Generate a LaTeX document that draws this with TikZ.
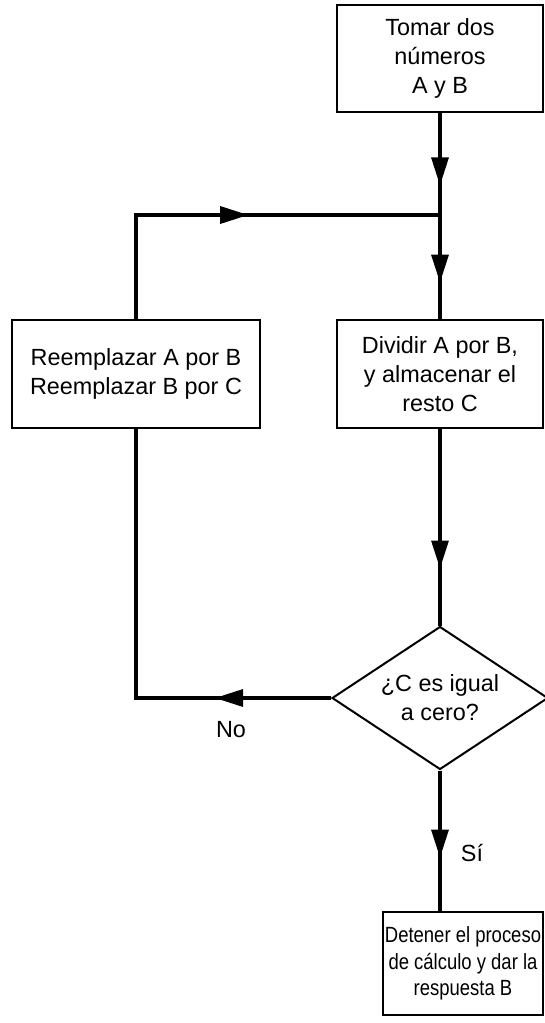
\documentclass[tikz,border=0pt]{standalone}
\usepackage{fontspec}
\setmainfont{Liberation Sans}
\newfontfamily\narrowfont[FakeStretch=0.84]{Liberation Sans}
\usetikzlibrary{shapes.geometric,arrows.meta,decorations.markings}

\begin{document}
\begin{tikzpicture}[x=0.5pt, y=-0.5pt,
		box/.style={draw, line width=1pt, rectangle, inner sep=0pt, align=center,
			font=\fontsize{11.7}{14.5}\selectfont},
		rombo/.style={draw, line width=1pt, diamond, aspect=1.5, inner sep=0pt,
			align=center, font=\fontsize{11.7}{14.5}\selectfont},
		con/.style={line width=1.6pt},
		fl/.style={postaction={decorate}, decoration={markings,
				mark=at position #1 with {\arrow{Triangle[length=14pt,width=8.5pt]}}}},
		lbl/.style={font=\fontsize{11.7}{14}\selectfont}]
	\useasboundingbox (0,0) rectangle (545,1023);

	\node[box, minimum width=103pt, minimum height=53.5pt] (tomar) at (440,58.5)
	{Tomar dos\\números\\A y B};
	\coordinate (junta) at (440,215);
	\node[box, minimum width=103pt, minimum height=54pt] (dividir) at (440,374)
	{Dividir A por B,\\y almacenar el\\resto C};
	\node[box, minimum width=124pt, minimum height=54pt] (reempl) at (136,374)
	{Reemplazar A por B\\Reemplazar B por C};
	\node[rombo, minimum width=108pt, minimum height=71.5pt] (cero) at (440,698)
	{¿C es igual\\a cero?};
	\node[box, minimum width=80pt, minimum height=51.5pt,
		font=\narrowfont\fontsize{11}{13.2}\selectfont] (detener) at (463,963.5)
	{Detener el proceso\\de cálculo y dar la\\respuesta B};

	\node[lbl] (no) at (231,730) {No};
	\node[lbl] (si) at (472,853) {Sí};

	% flechas
	\draw[con, fl=0.71] (tomar.south) -- (junta);
	\draw[con, fl=0.65] (junta) -- (dividir.north);
	\draw[con, fl=0.53] (reempl.north) |- (junta);
	\draw[con, fl=0.71] (dividir.south) -- (cero.north);
	\draw[con, fl=0.25] (cero.west) -| (reempl.south);
	\draw[con, fl=0.62] (cero.south) -- (cero.south |- detener.north);
\end{tikzpicture}
\end{document}
